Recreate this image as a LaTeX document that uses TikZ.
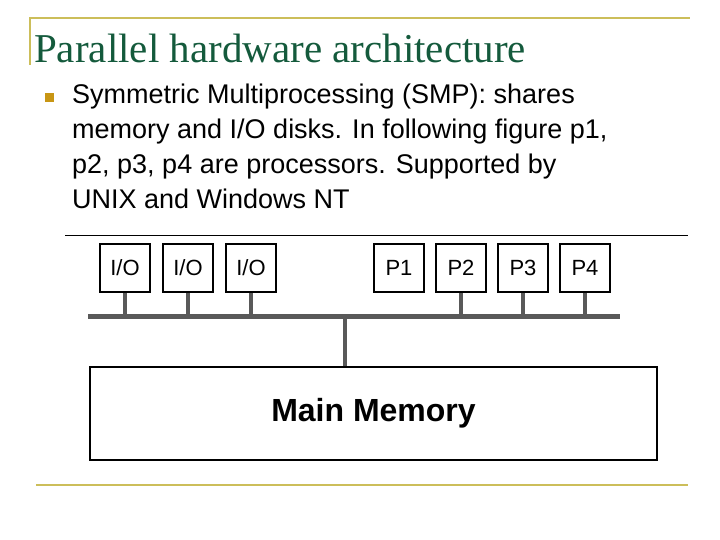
\documentclass[tikz,border=0pt]{standalone}
\usepackage{fontspec}
\setmainfont{Liberation Sans}
\newfontfamily\titlefont{Liberation Serif}
\usetikzlibrary{positioning,calc}
\definecolor{gold}{RGB}{204,190,90}
\definecolor{titlegreen}{RGB}{20,90,60}
\definecolor{bulletgold}{RGB}{200,150,20}
\tikzset{
  unit/.style={rectangle, draw=black, line width=1.6pt, minimum width=50pt, minimum height=48pt, font=\fontsize{22}{24}\selectfont, inner sep=0pt},
  stem/.style={line width=4pt, draw=black!65},
  rule/.style={line width=2pt, draw=gold}
}
\begin{document}
\begin{tikzpicture}[x=1pt,y=-1pt]
  \useasboundingbox (0,0) rectangle (720,540);
  % slide frame
  \draw[rule] (30,65) -- (30,18) -- (690,18);
  \draw[rule] (36,485) -- (688,485);
  \node[anchor=base west, text=titlegreen, font=\titlefont\fontsize{41}{44}\selectfont, inner sep=0pt] (title) at (34,63) {Parallel hardware architecture};
  \fill[bulletgold] (45,93) rectangle (54,102);
  \node[anchor=north west, align=left, font=\fontsize{27}{35}\selectfont, inner sep=0pt] (text) at (72,84)
    {Symmetric Multiprocessing (SMP): shares\\memory and I/O disks. In following figure p1,\\p2, p3, p4 are processors. Supported by\\UNIX and Windows NT};
  \draw[line width=0.6pt] (65,235) -- (688,235);

  % units
  \node[unit] (IO1) at (125,268) {I/O};
  \node[unit] (IO2) at (188,268) {I/O};
  \node[unit] (IO3) at (251,268) {I/O};
  \node[unit] (P1) at (399,268) {P1};
  \node[unit] (P2) at (461,268) {P2};
  \node[unit] (P3) at (523,268) {P3};
  \node[unit] (P4) at (585,268) {P4};
  \node[unit, minimum width=567pt, minimum height=93pt, font=\bfseries\fontsize{32}{34}\selectfont] (Mem) at (373.5,413.5) {Main Memory};

  % bus
  \coordinate (busL) at (88,316);
  \coordinate (busR) at (620,316);
  \draw[stem, line width=5pt] (busL) -- (busR);
  \foreach \n in {IO1,IO2,IO3,P2,P3,P4}
    \draw[stem] (\n.south) -- (\n.south |- busL);
  \draw[stem] (Mem.north -| 345,0) -- (345,316);
\end{tikzpicture}
\end{document}
